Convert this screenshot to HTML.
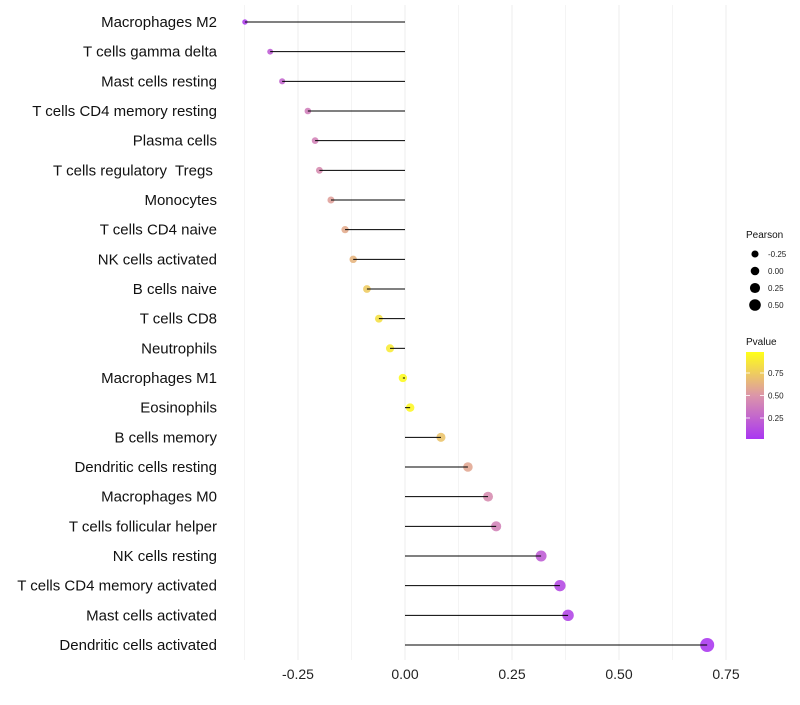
<!DOCTYPE html>
<html><head><meta charset="utf-8"><style>
body{margin:0;background:#fff;font-family:"Liberation Sans",sans-serif}
text{white-space:pre}
</style></head><body>
<svg id="chart" width="800" height="700" xmlns="http://www.w3.org/2000/svg" font-family="Liberation Sans, sans-serif"></svg>
<script>
const categories=["Macrophages M2","T cells gamma delta","Mast cells resting","T cells CD4 memory resting","Plasma cells","T cells regulatory  Tregs ","Monocytes","T cells CD4 naive","NK cells activated","B cells naive","T cells CD8","Neutrophils","Macrophages M1","Eosinophils","B cells memory","Dendritic cells resting","Macrophages M0","T cells follicular helper","NK cells resting","T cells CD4 memory activated","Mast cells activated","Dendritic cells activated"];
const pearson=[-0.374,-0.315,-0.287,-0.227,-0.21,-0.20,-0.173,-0.14,-0.121,-0.089,-0.061,-0.035,-0.005,0.012,0.084,0.147,0.194,0.213,0.318,0.362,0.381,0.706];
const pvalues=[0.04,0.2,0.25,0.38,0.4,0.45,0.55,0.6,0.65,0.75,0.85,0.9,0.98,0.96,0.72,0.58,0.45,0.4,0.2,0.1,0.08,0.01];
const xTicks=[-0.25,0,0.25,0.5,0.75];
const xTickLabels=["-0.25","0.00","0.25","0.50","0.75"];
const sizeLegend=[-0.25,0,0.25,0.5];
const sizeLegendLabels=["-0.25","0.00","0.25","0.50"];
const pTicks=[0.25,0.5,0.75];
const pTickLabels=["0.25","0.50","0.75"];

const NS="http://www.w3.org/2000/svg";
const svg=document.getElementById('chart');
function el(t,a,p){const e=document.createElementNS(NS,t);for(const k in a)e.setAttribute(k,a[k]);(p||svg).appendChild(e);return e;}
const x=v=>405+v*428;
const y=i=>22+i*(623/21);
function lerp(a,b,t){return a+(b-a)*t}
function col(p){
  const stops=[[0,[160,32,240]],[0.5,[216,138,160]],[1,[255,255,0]]];
  let i=p<0.5?0:1;const s=stops[i],e=stops[i+1];const t=(p-s[0])/(e[0]-s[0]);
  const c=s[1].map((v,k)=>Math.round(lerp(v,e[1][k],t)));return `rgb(${c})`;
}
const rad=v=>Math.max(1.4,4.2+4.0*v);
for(let g=-0.375;g<=0.76;g+=0.125){
  const l=el('line',{x1:x(g),x2:x(g),y1:5,y2:660,stroke:'#ededed','stroke-width':Math.abs((g*8)%2)<0.01?1:0.6});
  
  
}
xTicks.forEach((t,i)=>{
  const tx=el('text',{x:x(t),y:679,'text-anchor':'middle','font-size':14,fill:'#222'});
  tx.textContent=xTickLabels[i];
  
  
});
categories.forEach((c,i)=>{
  const tx=el('text',{x:217,y:y(i)+5,'text-anchor':'end','font-size':15,fill:'#111'});
  tx.textContent=c;
  
  
  const pt=el('circle',{cx:x(pearson[i]),cy:y(i),r:rad(pearson[i]),fill:col(pvalues[i]),'fill-opacity':0.8});
  
  
  const ln=el('line',{x1:x(0),x2:x(pearson[i]),y1:y(i),y2:y(i),stroke:'#000','stroke-width':1});
  
  
});
const lt=el('text',{x:746,y:238,'font-size':10,fill:'#111'});lt.textContent='Pearson';


sizeLegend.forEach((v,i)=>{
  const cy=254+i*17;
  const c=el('circle',{cx:755,cy:cy,r:4.3+v*3.0,fill:'#000'});
  
  
  const t=el('text',{x:768,y:cy+3,'font-size':8,fill:'#222'});t.textContent=sizeLegendLabels[i];
  
  
});
const pt2=el('text',{x:746,y:345,'font-size':10,fill:'#111'});pt2.textContent='Pvalue';


const defs=el('defs',{});
const grad=el('linearGradient',{id:'pg',x1:0,y1:1,x2:0,y2:0},defs);
[0,0.25,0.5,0.75,1].forEach(s=>el('stop',{offset:s,'stop-color':col(s)},grad));
const bar=el('rect',{x:746,y:352,width:18,height:87,fill:'url(#pg)','fill-opacity':0.9});


pTicks.forEach((p,i)=>{
  const yy=440.5-p*90;
  el('line',{x1:746,x2:750,y1:yy,y2:yy,stroke:'#fff','stroke-width':0.8});
  el('line',{x1:760,x2:764,y1:yy,y2:yy,stroke:'#fff','stroke-width':0.8});
  const t=el('text',{x:768,y:yy+3,'font-size':8,fill:'#222'});t.textContent=pTickLabels[i];
  
  
});
</script>
</body></html>
